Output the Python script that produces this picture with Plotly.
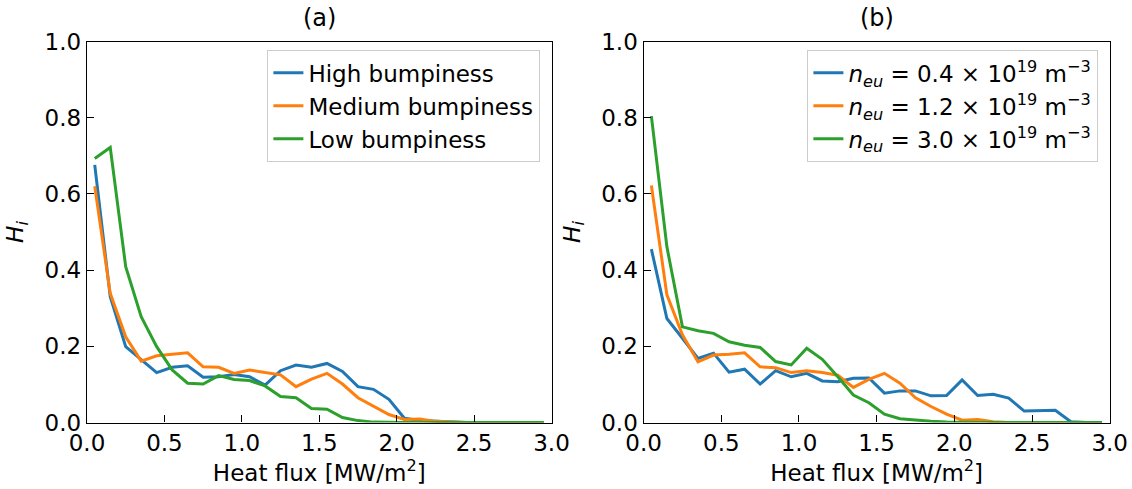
import plotly.graph_objects as go
from plotly.subplots import make_subplots

heat_flux = [0.05, 0.15, 0.25, 0.35, 0.45, 0.55, 0.65, 0.75, 0.85, 0.95,
             1.05, 1.15, 1.25, 1.35, 1.45, 1.55, 1.65, 1.75, 1.85, 1.95,
             2.05, 2.15, 2.25, 2.35, 2.45, 2.55, 2.65, 2.75, 2.85, 2.95]

# Panel (a)
high_bump = [0.676, 0.330, 0.199, 0.164, 0.131, 0.145, 0.149, 0.119, 0.120, 0.126,
             0.120, 0.098, 0.136, 0.151, 0.145, 0.155, 0.134, 0.094, 0.087, 0.061,
             0.011, 0.005, 0.003, 0.001, 0.0, 0.0, 0.0, 0.0, 0.0, 0.0]
medium_bump = [0.620, 0.339, 0.225, 0.161, 0.175, 0.179, 0.183, 0.146, 0.145, 0.129,
               0.138, 0.131, 0.125, 0.094, 0.114, 0.129, 0.101, 0.065, 0.042, 0.021,
               0.008, 0.009, 0.003, 0.001, 0.0, 0.0, 0.0, 0.0, 0.0, 0.0]
low_bump = [0.693, 0.722, 0.409, 0.278, 0.199, 0.138, 0.103, 0.101, 0.123, 0.113,
            0.110, 0.096, 0.068, 0.065, 0.037, 0.035, 0.013, 0.005, 0.001, 0.0,
            0.0, 0.0, 0.0, 0.0, 0.0, 0.0, 0.0, 0.0, 0.0, 0.0]

# Panel (b)
n_04 = [0.455, 0.273, 0.221, 0.168, 0.182, 0.132, 0.140, 0.101, 0.136, 0.120,
        0.129, 0.109, 0.107, 0.116, 0.117, 0.077, 0.083, 0.083, 0.070, 0.071,
        0.112, 0.071, 0.074, 0.064, 0.030, 0.031, 0.032, 0.002, 0.0, 0.0]
n_12 = [0.622, 0.335, 0.230, 0.159, 0.177, 0.179, 0.183, 0.146, 0.144, 0.131,
        0.136, 0.131, 0.124, 0.092, 0.113, 0.129, 0.103, 0.065, 0.042, 0.022,
        0.006, 0.008, 0.002, 0.0, 0.0, 0.0, 0.0, 0.0, 0.0, 0.0]
n_30 = [0.804, 0.461, 0.251, 0.241, 0.234, 0.212, 0.203, 0.197, 0.160, 0.151,
        0.195, 0.166, 0.120, 0.072, 0.052, 0.022, 0.010, 0.006, 0.003, 0.001,
        0.0, 0.0, 0.0, 0.0, 0.0, 0.0, 0.0, 0.0, 0.0, 0.0]

labels_a = ["High bumpiness", "Medium bumpiness", "Low bumpiness"]
labels_b = [
    "<i>n</i><sub><i>eu</i></sub> = 0.4 × 10<sup>19</sup> m<sup>−3</sup>",
    "<i>n</i><sub><i>eu</i></sub> = 1.2 × 10<sup>19</sup> m<sup>−3</sup>",
    "<i>n</i><sub><i>eu</i></sub> = 3.0 × 10<sup>19</sup> m<sup>−3</sup>",
]
colors = ["#1f77b4", "#ff7f0e", "#2ca02c"]
x_ticks = [0.0, 0.5, 1.0, 1.5, 2.0, 2.5, 3.0]
y_ticks = [0.0, 0.2, 0.4, 0.6, 0.8, 1.0]

W, H = 1132, 489
FONT = "DejaVu Sans, Verdana, sans-serif"
FS = 23

fig = make_subplots(rows=1, cols=2)

for i, (ys, lab) in enumerate(zip([high_bump, medium_bump, low_bump], labels_a)):
    fig.add_trace(go.Scatter(x=heat_flux, y=ys, mode="lines", name=lab,
                             line=dict(color=colors[i], width=3),
                             legendgroup=f"a{i}", legend="legend"), row=1, col=1)
for i, (ys, lab) in enumerate(zip([n_04, n_12, n_30], labels_b)):
    fig.add_trace(go.Scatter(x=heat_flux, y=ys, mode="lines", name=lab,
                             line=dict(color=colors[i], width=3),
                             legendgroup=f"b{i}", legend="legend2"), row=1, col=2)

y0 = (H - 422.5) / H
y1 = (H - 41.5) / H
axis_common = dict(showline=True, linecolor="black", linewidth=1.4, mirror=True,
                   ticks="inside", ticklen=7, tickwidth=1.4, tickcolor="black",
                   showgrid=False, zeroline=False, automargin=False,
                   tickfont=dict(family=FONT, size=FS, color="black"))
xtitle = dict(text="Heat flux [MW/m<sup>2</sup>]", standoff=5,
              font=dict(family=FONT, size=FS, color="black"))
ytitle = dict(text="<i>H</i><sub><i>i</i></sub>", standoff=14,
              font=dict(family=FONT, size=FS, color="black"))

fig.update_layout(
    xaxis=dict(domain=[87 / W, 551.5 / W], range=[0, 3], tickvals=x_ticks,
               ticktext=[f"{v:.1f}" for v in x_ticks], title=xtitle, **axis_common),
    xaxis2=dict(domain=[643.6 / W, 1109.7 / W], range=[0, 3], tickvals=x_ticks,
                ticktext=[f"{v:.1f}" for v in x_ticks], title=xtitle, **axis_common),
    yaxis=dict(domain=[y0, y1], range=[0, 1], tickvals=y_ticks,
               ticktext=[f"{v:.1f}" for v in y_ticks], title=ytitle, **axis_common),
    yaxis2=dict(domain=[y0, y1], range=[0, 1], tickvals=y_ticks,
                ticktext=[f"{v:.1f}" for v in y_ticks], title=ytitle, **axis_common),
    legend=dict(x=540 / W, y=(H - 50) / H, xanchor="right", yanchor="top",
                bgcolor="rgba(255,255,255,0.8)", bordercolor="#cccccc", borderwidth=1.4,
                font=dict(family=FONT, size=FS, color="black"),
                tracegroupgap=0, traceorder="grouped"),
    legend2=dict(x=1098 / W, y=(H - 50) / H, xanchor="right", yanchor="top",
                 bgcolor="rgba(255,255,255,0.8)", bordercolor="#cccccc", borderwidth=1.4,
                 font=dict(family=FONT, size=FS, color="black"),
                 tracegroupgap=0, traceorder="grouped"),
    width=W, height=H,
    margin=dict(l=0, r=0, t=0, b=0),
    plot_bgcolor="white", paper_bgcolor="white",
    annotations=[
        dict(text="(a)", x=(87 + 551.5) / 2 / W, y=(H - 18) / H, xref="paper", yref="paper",
             showarrow=False, font=dict(family=FONT, size=24, color="black"),
             xanchor="center", yanchor="middle"),
        dict(text="(b)", x=(643.6 + 1109.7) / 2 / W, y=(H - 18) / H, xref="paper", yref="paper",
             showarrow=False, font=dict(family=FONT, size=24, color="black"),
             xanchor="center", yanchor="middle"),
    ],
)

fig.write_html("out.html")
